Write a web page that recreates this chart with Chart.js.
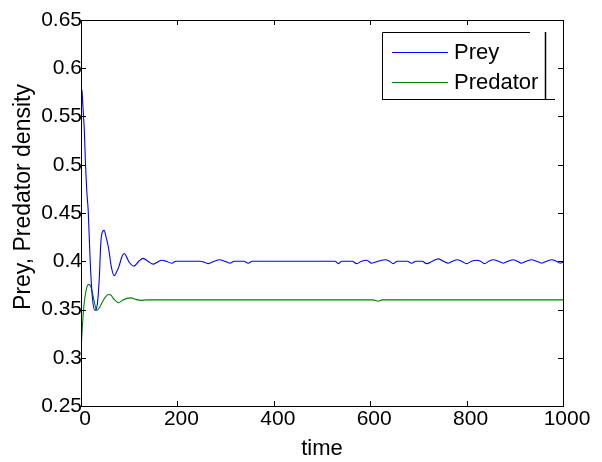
<html><head><meta charset="utf-8">
<script src="https://cdn.jsdelivr.net/npm/chart.js@4.4.0/dist/chart.umd.min.js"></script>
<style>
 body { margin:0; background:#fff; }
 canvas { display:block; }
</style>
</head>
<body>
<canvas id="myChart" width="602" height="462"></canvas>
<script>
// values
var preyT = [0, 1, 2, 3.5, 5, 7, 9, 12, 15, 19, 23.5, 29, 34, 38, 41, 44, 48, 52, 57, 63, 69, 74, 79, 85, 90, 95, 100, 110, 120, 129, 139, 150, 158, 167, 177, 188, 197,
  247, 256, 264, 276, 288, 298, 309, 318, 338, 347, 355, 527, 534, 541, 563, 572, 582, 593, 603, 617, 631, 640, 648, 656, 677, 686, 695, 708, 717, 729, 741, 752,
  762, 771, 780, 790, 800, 810, 821, 829, 837, 846, 856, 866, 876, 886, 897, 905, 914, 924, 935, 945, 956, 966, 977, 986, 994, 1000];
var preyV = [0.500, 0.560, 0.578, 0.565, 0.552, 0.535, 0.505, 0.473, 0.452, 0.401, 0.363, 0.349, 0.356, 0.383, 0.418, 0.430, 0.432, 0.425, 0.414, 0.394, 0.385, 0.389, 0.395, 0.405, 0.408, 0.404, 0.399, 0.395, 0.400, 0.403, 0.400, 0.397, 0.399, 0.401, 0.400, 0.398, 0.400,
  0.400, 0.399, 0.3975, 0.400, 0.4015, 0.400, 0.398, 0.400, 0.400, 0.398, 0.400, 0.400, 0.3975, 0.400, 0.400, 0.3975, 0.400, 0.401, 0.398, 0.400, 0.4015, 0.400, 0.3975, 0.400, 0.400, 0.398, 0.400, 0.400, 0.3975, 0.400, 0.4025, 0.400,
  0.398, 0.400, 0.4015, 0.400, 0.3975, 0.400, 0.401, 0.400, 0.3975, 0.400, 0.4015, 0.400, 0.398, 0.400, 0.4015, 0.400, 0.398, 0.400, 0.4015, 0.400, 0.398, 0.400, 0.4015, 0.400, 0.398, 0.399];

var predT = [0, 2, 5, 8, 12, 16, 20, 23, 28, 32.5, 37, 41.5, 48, 57, 62, 67, 72, 78, 86, 95, 104, 114, 124, 135, 150, 605, 617, 625, 1000];
var predV = [0.308, 0.325, 0.348, 0.362, 0.373, 0.376, 0.374, 0.369, 0.357, 0.349, 0.351, 0.355, 0.361, 0.3655, 0.365, 0.3615, 0.359, 0.357, 0.3595, 0.3615, 0.362, 0.3605, 0.3595, 0.360, 0.360, 0.360, 0.3585, 0.360, 0.360];

var seriesNames = ['Prey', 'Predator'];
var seriesColors = ['#0000ff', '#008000'];
var xTicks = ['0', '200', '400', '600', '800', '1000'];
var yTicks = ['0.25', '0.3', '0.35', '0.4', '0.45', '0.5', '0.55', '0.6', '0.65'];

function pts(t, v) {
  var out = [];
  for (var i = 0; i < t.length; i++) out.push({x: t[i], y: v[i]});
  return out;
}

var FONT = "'Liberation Sans', Arial, sans-serif";

// box, inward ticks, y label, legend in matlab style
var matlabBits = {
  id: 'matlabBits',
  afterDraw: function(chart) {
    var c = chart.ctx, a = chart.chartArea;
    var xs = chart.scales.x, ys = chart.scales.y;
    c.save();
    c.strokeStyle = '#000';
    c.lineWidth = 1;
    c.strokeRect(Math.round(a.left) + 0.5, Math.round(a.top) + 0.5, Math.round(a.right - a.left), Math.round(a.bottom - a.top));
    c.beginPath();
    xs.ticks.forEach(function(tk, i) {
      var px = Math.round(xs.getPixelForTick(i)) + 0.5;
      c.moveTo(px, a.bottom); c.lineTo(px, a.bottom - 5);
      c.moveTo(px, a.top); c.lineTo(px, a.top + 5);
    });
    ys.ticks.forEach(function(tk, i) {
      var py = Math.round(ys.getPixelForTick(i)) + 0.5;
      c.moveTo(a.left, py); c.lineTo(a.left + 5, py);
      c.moveTo(a.right, py); c.lineTo(a.right - 5, py);
    });
    c.stroke();

    // y title
    c.fillStyle = '#000';
    c.font = '23px ' + FONT;
    c.textAlign = 'center';
    c.textBaseline = 'middle';
    c.translate(24, 197);
    c.rotate(-Math.PI / 2);
    c.fillText('Prey, Predator density', 0, 0);
    c.setTransform(1, 0, 0, 1, 0, 0);

    // legend
    var L = 382, T = 32, R = 545, B = 99;
    c.beginPath();
    c.moveTo(L + 0.5, B + 0.5); c.lineTo(L + 0.5, T + 0.5); c.lineTo(R - 15, T + 0.5);
    c.moveTo(L, B + 0.5); c.lineTo(R + 10, B + 0.5);
    c.stroke();
    c.lineWidth = 1.5;
    c.beginPath();
    c.moveTo(R + 0.5, T); c.lineTo(R + 0.5, B);
    c.stroke();
    c.font = '22px ' + FONT;
    c.textAlign = 'left';
    chart.data.datasets.forEach(function(ds, i) {
      var y = 52 + i * 30;
      c.strokeStyle = ds.borderColor;
      c.lineWidth = 1;
      c.beginPath();
      c.moveTo(392, y + 0.5); c.lineTo(448, y + 0.5);
      c.stroke();
      c.fillStyle = '#000';
      c.fillText(ds.label, 454, y + 1);
    });
    c.restore();
  }
};

var ctx = document.getElementById('myChart');
var myChart = new Chart(ctx, {
  type: 'line',
  data: {
    datasets: [{
      label: seriesNames[0],
      data: pts(preyT, preyV),
      borderColor: seriesColors[0],
      borderWidth: 1.1,
      pointRadius: 0,
      fill: false,
      cubicInterpolationMode: 'monotone'
    }, {
      label: seriesNames[1],
      data: pts(predT, predV),
      borderColor: seriesColors[1],
      borderWidth: 1.1,
      pointRadius: 0,
      fill: false,
      cubicInterpolationMode: 'monotone'
    }]
  },
  options: {
    responsive: false,
    animation: false,
    devicePixelRatio: 1,
    layout: { padding: { top: 20, right: 39, left: 0, bottom: 0 } },
    plugins: { legend: { display: false }, tooltip: { enabled: false } },
    scales: {
      x: {
        type: 'linear',
        min: 0, max: 1000,
        afterBuildTicks: function(s) { s.ticks = xTicks.map(function(v) { return {value: parseFloat(v)}; }); },
        afterFit: function(s) { s.height = 56; },
        grid: { display: false, drawTicks: false },
        border: { display: false },
        ticks: {
          color: '#000', padding: 1, maxRotation: 0, labelOffset: 4, font: { family: FONT, size: 21 },
          callback: function(v, i) { return xTicks[i]; }
        },
        title: { display: true, text: 'time', color: '#000', padding: 0, font: { family: FONT, size: 22 } }
      },
      y: {
        min: 0.25, max: 0.65,
        afterBuildTicks: function(s) { s.ticks = yTicks.map(function(v) { return {value: parseFloat(v)}; }); },
        afterFit: function(s) { s.width = 81; },
        grid: { display: false, drawTicks: false },
        border: { display: false },
        ticks: {
          color: '#000', padding: -1, font: { family: FONT, size: 21 },
          callback: function(v, i) { return yTicks[i]; }
        }
      }
    }
  },
  plugins: [matlabBits]
});
</script>
</body></html>
